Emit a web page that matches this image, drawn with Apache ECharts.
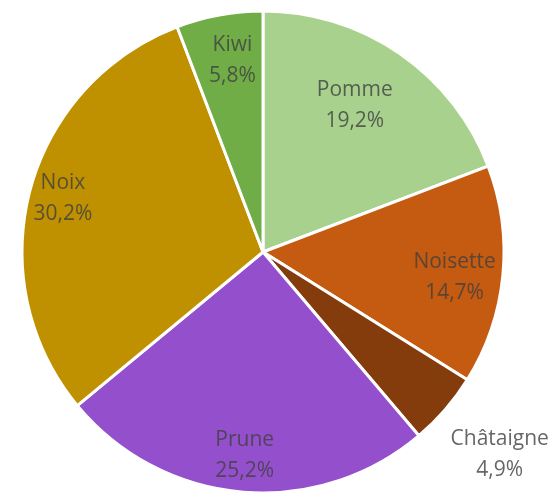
<!DOCTYPE html>
<html>
<head>
<meta charset="utf-8">
<script src="https://cdn.jsdelivr.net/npm/echarts@6/dist/echarts.min.js"></script>
<style>
html,body{margin:0;padding:0;background:#fff;}
#chart{width:558px;height:496px;}
</style>
</head>
<body>
<div id="chart"></div>
<script>
const categories = ['Pomme', 'Noisette', 'Châtaigne', 'Prune', 'Noix', 'Kiwi'];
const values = [19.2, 14.7, 4.9, 25.2, 30.2, 5.8];

// styling
const colors = ['#A9D18E', '#C55A11', '#843C0C', '#9450CC', '#BF9000', '#70AD47'];
const labelRing = ['near', 'mid', 'outer', 'mid', 'mid', 'mid'];
// small label nudges [dx, dy]
const labelNudge = [[-10, 1], [-4, 6], [3, 0], [-1, 8], [-10, -3], [5, 2]];

const center = [263, 252];
const R = 241;

const fmt = p => p.name + '\n' + p.value.toFixed(1).replace('.', ',') + '%';
const labelStyle = {
  fontFamily: 'Open Sans',
  fontSize: 21,
  lineHeight: 31,
  color: 'rgba(64,64,64,0.8)',
  formatter: fmt
};

function overlay(ring, radius) {
  return {
    type: 'pie',
    center: center,
    radius: radius,
    startAngle: 90,
    silent: true,
    avoidLabelOverlap: false,
    itemStyle: { color: 'transparent', borderWidth: 0 },
    emphasis: { disabled: true },
    labelLine: { show: false },
    label: Object.assign({ position: 'inside' }, labelStyle),
    labelLayout: p => ({ dx: labelNudge[p.dataIndex][0], dy: labelNudge[p.dataIndex][1] }),
    data: categories.map((c, i) => ({
      name: c, value: values[i],
      label: { show: labelRing[i] === ring }
    })),
    z: 5
  };
}

const chart = echarts.init(document.getElementById('chart'), null, { renderer: 'canvas' });
chart.setOption({
  animation: false,
  backgroundColor: '#fff',
  series: [
    {
      type: 'pie',
      center: center,
      radius: [0, R],
      startAngle: 90,
      clockwise: true,
      avoidLabelOverlap: false,
      label: { show: false },
      labelLine: { show: false },
      itemStyle: { borderColor: '#fff', borderWidth: 3 },
      emphasis: { disabled: true },
      data: categories.map((c, i) => ({ name: c, value: values[i], itemStyle: { color: colors[i] } }))
    },
    overlay('mid', [146, R]),
    overlay('near', [112, R]),
    overlay('outer', [250, 362])
  ]
});
</script>
</body>
</html>
